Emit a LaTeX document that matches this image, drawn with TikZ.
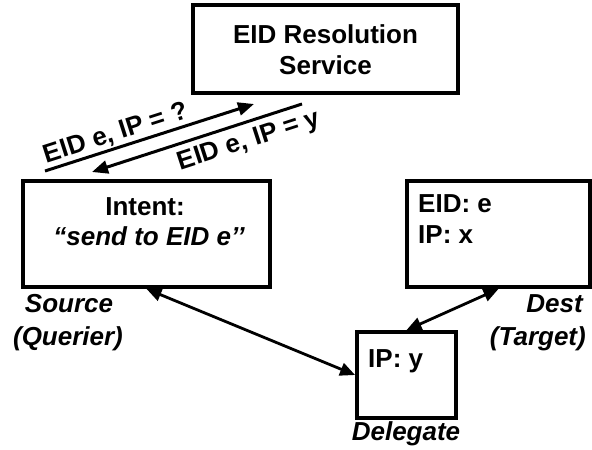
\documentclass[tikz,border=0pt]{standalone}
\usepackage{fontspec}
\setmainfont{Liberation Sans}
\usetikzlibrary{arrows.meta}
\begin{document}
\begin{tikzpicture}[x=1pt,y=-1pt,
  box/.style={draw, line width=3.8pt, inner sep=0pt},
  txt/.style={font=\fontsize{26}{31}\selectfont\bfseries, inner sep=0pt},
  itxt/.style={font=\fontsize{26}{31}\selectfont\bfseries\itshape, inner sep=0pt},
  conn/.style={line width=2.8pt, {Triangle[length=15pt,width=13pt]}-{Triangle[length=15pt,width=13pt]}},
  msg/.style={line width=3pt, -{Triangle[length=16pt,width=13pt]}},
  msglbl/.style={font=\fontsize{26}{31}\selectfont\bfseries, sloped, inner sep=1.5pt}]
\useasboundingbox (0,0) rectangle (592,450);

% boxes
\node[box, minimum width=265pt, minimum height=88pt] (ers) at (325.5,49) {};
\node[box, minimum width=247pt, minimum height=106pt] (src) at (146.5,234) {};
\node[box, minimum width=183pt, minimum height=106pt] (dst) at (498.5,234) {};
\node[box, minimum width=99pt, minimum height=86pt] (dlg) at (406.5,375) {};

% box texts
\node[txt, anchor=base] (ers1) at (325.5,43) {EID Resolution};
\node[txt, anchor=base] (ers2) at (325.5,74) {Service};
\node[txt, anchor=base] (src1) at (145,215) {Intent:};
\node[itxt, anchor=base] (src2) at (149,245) {“send to EID e’’};
\node[txt, anchor=base west] (dst1) at (418,212) {EID: e};
\node[txt, anchor=base west] (dst2) at (418,243) {IP: x};
\node[txt, anchor=base west] (dlg1) at (368,367) {IP: y};

% outside labels
\node[itxt, anchor=base] (srcl1) at (69,312) {Source};
\node[itxt, anchor=base] (srcl2) at (68,345) {(Querier)};
\node[itxt, anchor=base east] (dstl1) at (583,312) {Dest};
\node[itxt, anchor=base east] (dstl2) at (586,345) {(Target)};
\node[itxt, anchor=base] (dlgl) at (406,440) {Delegate};

% query / reply arrows
\coordinate (q1) at (45,171);
\coordinate (q2) at (254,104);
\coordinate (r1) at (302,104);
\coordinate (r2) at (92,172);
\draw[msg] (q1) -- (q2) node[msglbl, above, pos=0.36] (qlbl) {EID e, IP = ?};
\draw[msg] (r1) -- (r2);
\path (r2) -- (r1) node[msglbl, below=6pt, pos=0.72] (rlbl) {EID e, IP = y};

% connectors
\draw[conn] (src.south) -- (dlg.west);
\draw[conn] (dst.south) -- (dlg.north);
\end{tikzpicture}
\end{document}
